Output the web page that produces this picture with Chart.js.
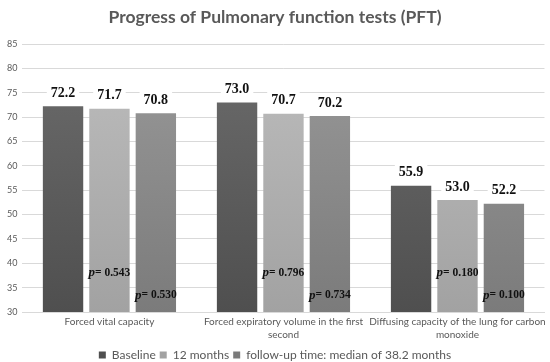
<!DOCTYPE html>
<html>
<head>
<meta charset="utf-8">
<script src="https://cdn.jsdelivr.net/npm/chart.js@4.4.0/dist/chart.umd.min.js"></script>
<style>
  html, body { margin: 0; padding: 0; background: #fff; }
  #wrap { width: 550px; height: 362px; }
</style>
</head>
<body>
<div id="wrap"><canvas id="pftChart"></canvas></div>
<script>
const categories = [
    'Forced vital capacity',
    ['Forced expiratory volume in the first', 'second'],
    ['Diffusing capacity of the lung for carbon', 'monoxide']
];
const baseline = [72.2, 73.0, 55.9];
const months12 = [71.7, 70.7, 53.0];
const followUp = [70.8, 70.2, 52.2];
const pMonths12 = ['0.543', '0.796', '0.180'];
const pFollowUp = ['0.530', '0.734', '0.100'];

function grad(top, bottom) {
    return function (context) {
        const area = context.chart.chartArea;
        if (!area) return bottom;
        const g = context.chart.ctx.createLinearGradient(0, area.top, 0, area.bottom);
        g.addColorStop(0, top);
        g.addColorStop(1, bottom);
        return g;
    };
}

// value labels on top, p-values inside bars
const labelPlugin = {
    id: 'barLabels',
    afterDatasetsDraw(chart) {
        const ctx = chart.ctx;
        const yScale = chart.scales.y;
        ctx.save();
        ctx.textAlign = 'center';
        ctx.textBaseline = 'bottom';
        chart.data.datasets.forEach((ds, i) => {
            const meta = chart.getDatasetMeta(i);
            meta.data.forEach((bar, j) => {
                const txt = ds.data[j].toFixed(1);
                ctx.font = 'bold 14px "Liberation Serif", "Times New Roman", serif';
                const w = ctx.measureText(txt).width;
                ctx.fillStyle = '#fff';
                ctx.fillRect(bar.x - w / 2 - 4, bar.y - 22, w + 8, 17);
                ctx.fillStyle = '#111';
                ctx.fillText(txt, bar.x, bar.y - 6);
            });
        });
        const pSets = [[1, pMonths12, 38], [2, pFollowUp, 33.4]];
        pSets.forEach(([dsIndex, pVals, at]) => {
            const meta = chart.getDatasetMeta(dsIndex);
            meta.data.forEach((bar, j) => {
                const y = yScale.getPixelForValue(at);
                ctx.font = 'bold italic 13px "Liberation Serif", serif';
                const pw = ctx.measureText('p').width;
                ctx.font = 'bold 11.5px "Liberation Serif", serif';
                const rest = '= ' + pVals[j];
                const rw = ctx.measureText(rest).width;
                const x0 = bar.x - (pw + rw) / 2;
                ctx.textAlign = 'left';
                ctx.textBaseline = 'middle';
                ctx.fillStyle = '#111';
                ctx.font = 'bold italic 13px "Liberation Serif", serif';
                ctx.fillText('p', x0, y);
                ctx.font = 'bold 11.5px "Liberation Serif", serif';
                ctx.fillText(rest, x0 + pw, y);
            });
        });
        ctx.restore();
    }
};

new Chart(document.getElementById('pftChart'), {
    type: 'bar',
    data: {
        labels: categories,
        datasets: [{
            label: 'Baseline',
            data: baseline,
            backgroundColor: grad('#6c6c6c', '#4f4f4f'),
            borderWidth: 0,
        }, {
            label: '12 months',
            data: months12,
            backgroundColor: grad('#bdbdbd', '#a2a2a2'),
            borderWidth: 0,
        }, {
            label: 'follow-up time: median of 38.2 months',
            data: followUp,
            backgroundColor: grad('#999999', '#7b7b7b'),
            borderWidth: 0,
        }]
    },
    plugins: [labelPlugin],
    options: {
        responsive: true,
        maintainAspectRatio: false,
        animation: false,
        categoryPercentage: 0.8,
        barPercentage: 0.87,
        layout: { padding: { left: 2, right: 2, top: 0, bottom: -9 } },
        plugins: {
            title: {
                display: true,
                text: 'Progress of Pulmonary function tests (PFT)',
                color: '#595959',
                font: { family: 'Lato', size: 17.5, weight: 'bold' },
                padding: { top: 7, bottom: 16 }
            },
            legend: {
                position: 'bottom',
                labels: {
                    color: '#595959',
                    font: { family: 'Lato', size: 12 },
                    boxWidth: 7,
                    boxHeight: 7,
                    padding: 4
                }
            },
            tooltip: { enabled: false }
        },
        scales: {
            x: {
                grid: { display: false, drawTicks: false },
                border: { display: true, color: '#d9d9d9' },
                ticks: {
                    autoSkip: false,
                    color: '#595959',
                    font: { family: 'Lato', size: 10, lineHeight: 1.25 },
                    maxRotation: 0,
                    padding: 4
                }
            },
            y: {
                min: 30,
                max: 85,
                ticks: {
                    stepSize: 5,
                    color: '#595959',
                    font: { family: 'Lato', size: 9 },
                    padding: 5
                },
                grid: { color: '#d9d9d9', drawTicks: false },
                border: { display: false }
            }
        }
    }
});
</script>
</body>
</html>
